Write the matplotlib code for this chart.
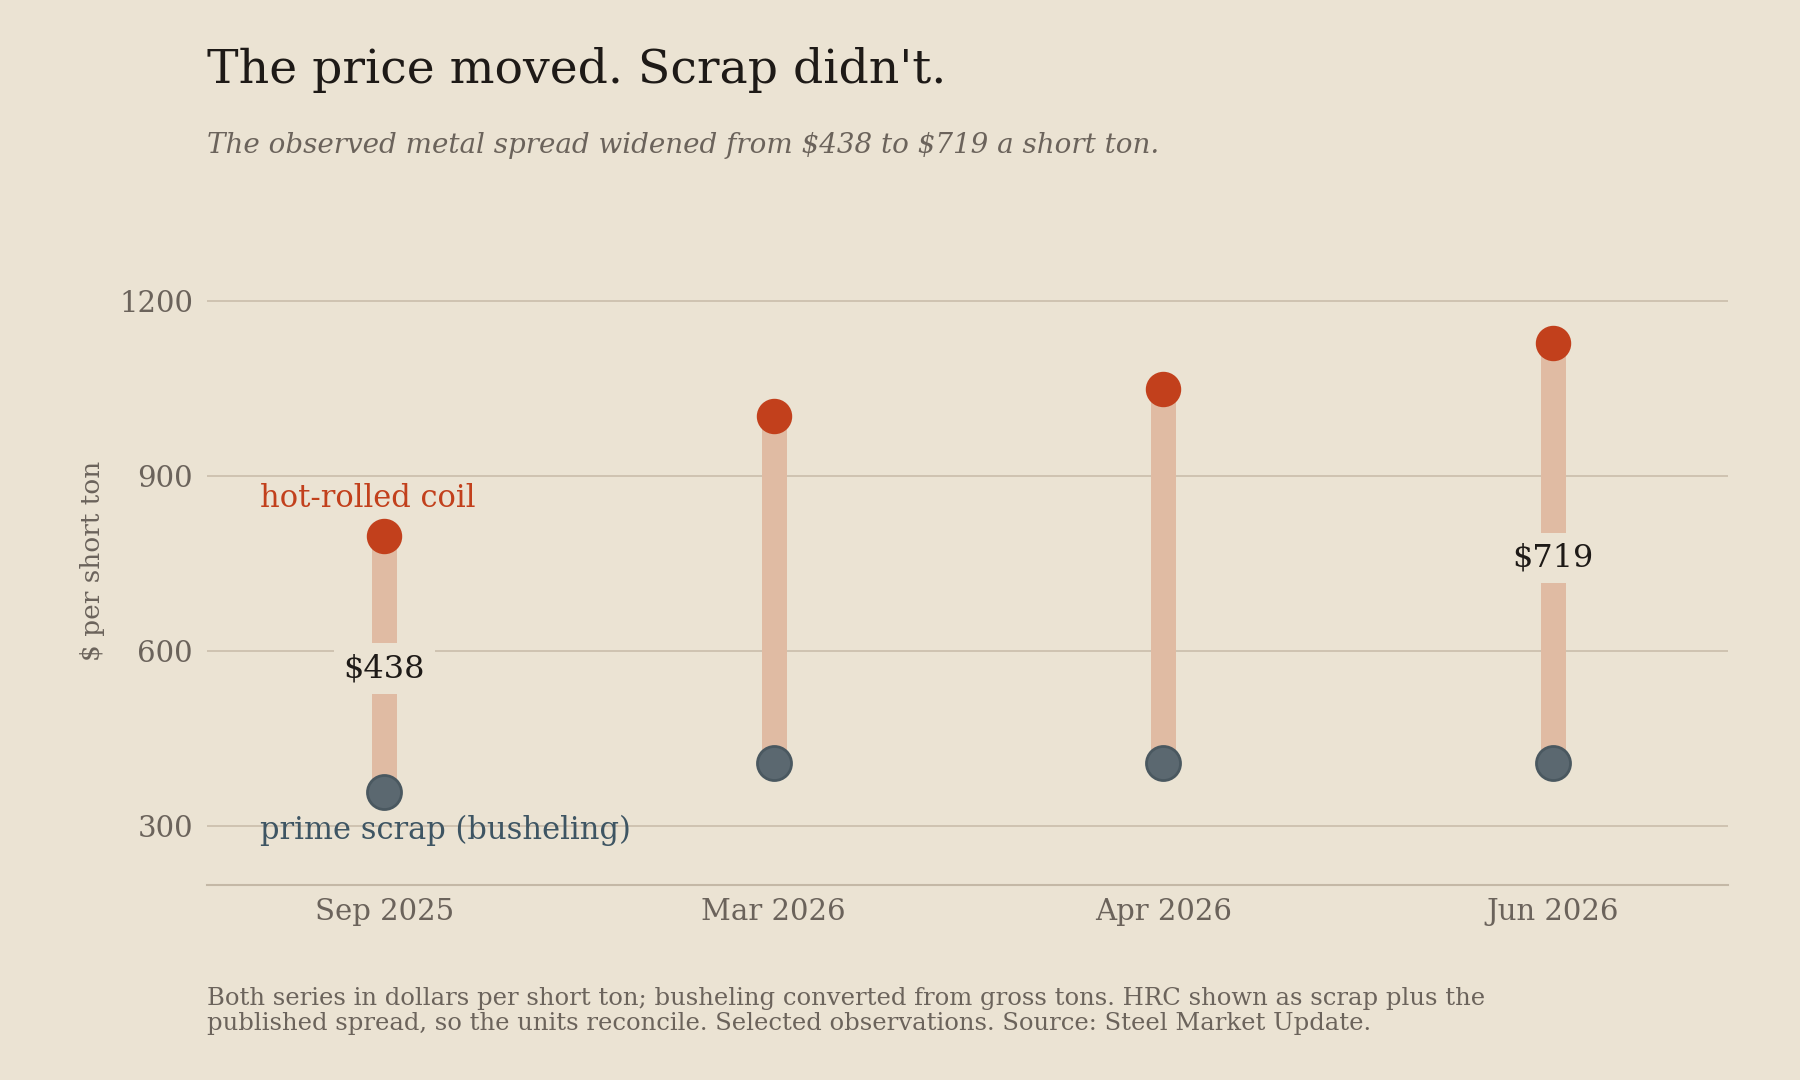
import matplotlib
matplotlib.use("Agg")
import matplotlib.pyplot as plt

categories = ["Sep 2025", "Mar 2026", "Apr 2026", "Jun 2026"]
hrc = [797, 1003, 1048, 1127]
scrap = [359, 408, 408, 408]
spread_labels = {0: "\\$438", 3: "\\$719"}

BG = "#EBE3D3"
plt.rcParams['font.family'] = ['DejaVu Serif']
fig = plt.figure(figsize=(18, 10.8), dpi=100, facecolor=BG)
ax = fig.add_axes([0.115, 0.181, 0.845, 0.6])
ax.set_facecolor(BG)
x = list(range(len(categories)))
ax.vlines(x, scrap, hrc, color="#E0BBA3", lw=18, zorder=1)
ax.scatter(x, hrc, s=600, color="#C2401C", zorder=3)
ax.scatter(x, scrap, s=600, color="#5B6870", edgecolor="#4A5860", lw=2, zorder=3)
for i, t in spread_labels.items():
    ax.text(i, (hrc[i] + scrap[i]) / 2 - 8, t, ha="center", va="center", fontsize=23, color="#1E1A17",
            bbox=dict(facecolor=BG, edgecolor="none", pad=7), zorder=4)
ax.text(-0.32, 862, "hot-rolled coil", color="#C2401C", fontsize=22, va="center")
ax.text(-0.32, 292, "prime scrap (busheling)", color="#3E5563", fontsize=22, va="center")
ax.set_xticks(x, categories)
ax.set_yticks([300, 600, 900, 1200])
ax.set_ylim(200, 1310)
ax.set_xlim(-0.455, 3.45)
ax.grid(axis="y", color="#CCC0AE", lw=1.3)
ax.set_axisbelow(True)
for s in ["top", "right", "left"]:
    ax.spines[s].set_visible(False)
ax.spines["bottom"].set_color("#C4B8A6")
ax.spines["bottom"].set_linewidth(1.5)
ax.tick_params(length=0, labelsize=21, labelcolor="#6B635B", pad=10)
ax.set_ylabel("$ per short ton", fontsize=19, color="#6B635B", labelpad=10)
fig.text(0.115, 0.935, "The price moved. Scrap didn't.", fontsize=34, color="#1E1A17", va="center")
fig.text(0.115, 0.865, "The observed metal spread widened from \\$438 to \\$719 a short ton.",
         fontsize=20, style="italic", color="#6B635B", va="center")
fig.text(0.115, 0.064, "Both series in dollars per short ton; busheling converted from gross tons. HRC shown as scrap plus the\n"
         "published spread, so the units reconcile. Selected observations. Source: Steel Market Update.",
         fontsize=17.5, color="#6B635B", va="center", linespacing=1.1)
fig.savefig("out.png", facecolor=BG)
